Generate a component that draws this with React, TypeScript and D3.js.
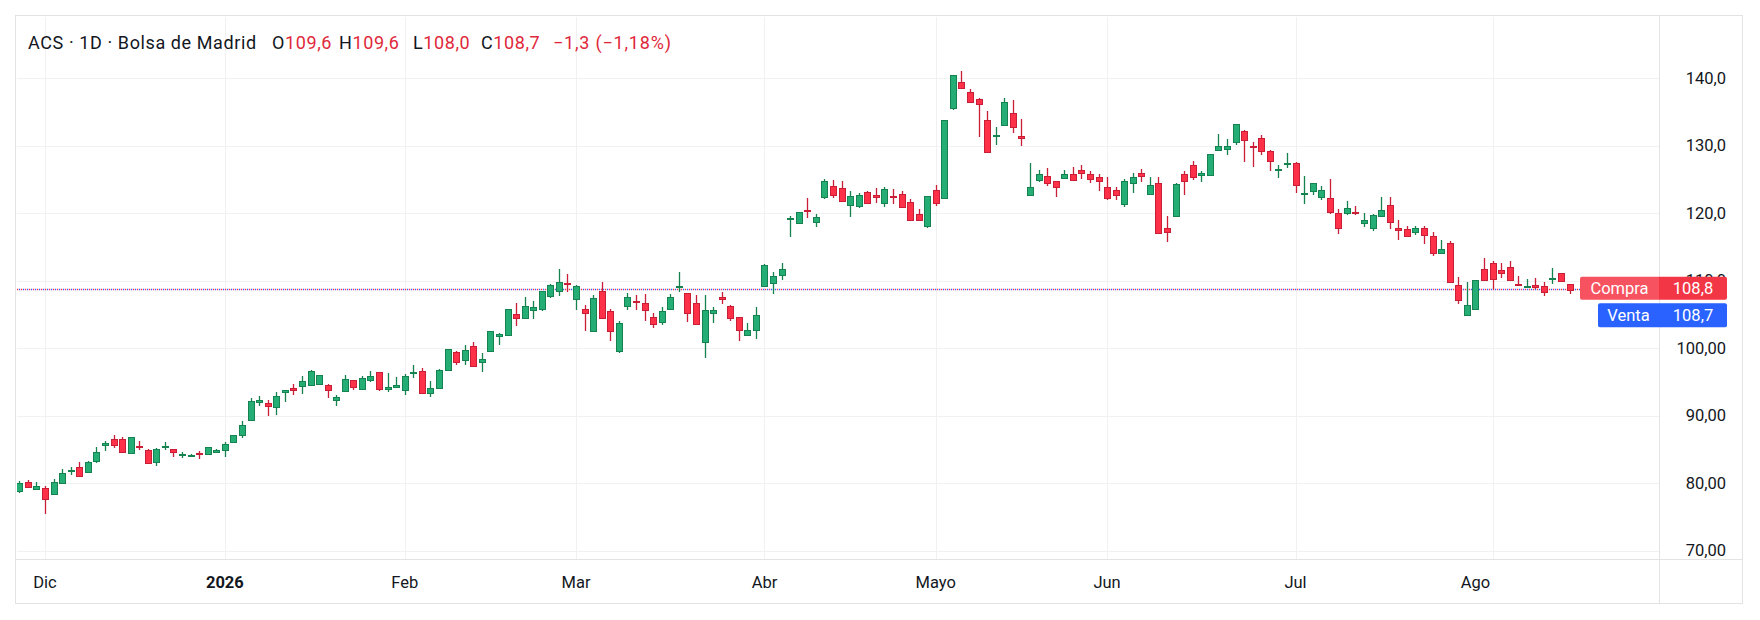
import React from "react";
import * as d3 from "d3";

const openV = [78.8,80.2,79.1,79.3,78.4,80.1,81.8,82.4,81.7,83.35,85.7,86.6,86.5,84.5,85.55,85.0,83.2,85.45,85.15,84.25,84.2,84.5,84.35,84.7,84.95,86.05,87.15,89.4,92.0,91.85,91.3,93.55,94.05,94.35,94.5,94.75,94.55,92.35,93.65,95.3,93.95,95.25,96.5,93.95,94.25,93.8,96.4,96.65,93.35,94.1,96.75,99.4,98.25,100.3,97.95,99.55,101.75,101.9,105.15,104.5,105.7,105.75,107.7,108.55,109.7,107.25,105.85,102.6,108.45,105.55,99.6,106.2,107.05,106.7,104.65,103.85,105.75,109.15,108.2,106.7,100.9,105.2,107.6,106.25,104.65,101.95,102.75,109.2,109.65,110.8,119.2,118.6,120.45,118.75,122.4,124.0,123.75,121.25,121.1,123.15,122.7,121.5,122.55,122.85,121.65,119.9,118.15,123.45,122.25,135.65,139.45,138.0,136.95,133.75,131.45,133.15,134.9,131.5,122.7,124.9,125.5,124.75,125.2,125.8,126.45,125.85,125.4,123.95,123.5,121.45,124.55,126.0,122.9,124.55,117.75,119.55,125.85,127.15,125.7,125.7,129.4,129.55,130.55,132.15,129.9,131.15,129.25,126.45,127.45,127.45,122.9,123.35,122.45,122.3,120.0,120.1,120.15,118.5,117.8,119.55,121.3,117.8,117.65,117.2,117.8,116.6,114.1,115.55,109.4,105.0,105.85,111.75,112.6,111.6,112.05,109.6,109.25,109.4,109.25,110.4,111.15,109.6];
const highV = [80.4,80.5,80.2,79.6,80.6,82.1,82.4,83.2,83.3,85.45,86.3,87.1,86.9,86.8,86.25,85.15,85.3,86.1,85.15,84.6,84.3,84.8,85.45,85.05,86.1,87.2,89.3,92.7,93.0,92.3,93.55,93.85,94.75,95.95,96.8,96.05,94.75,93.15,96.1,95.3,95.9,96.7,96.5,96.4,95.8,96.25,97.5,97.05,95.2,96.9,99.85,99.6,100.5,100.95,99.25,102.5,102.25,105.75,106.7,107.55,106.95,108.55,109.55,111.75,111.0,109.4,106.4,107.9,109.85,105.85,104.05,108.2,107.9,108.05,105.25,106.1,108.05,111.3,108.2,107.9,107.9,106.1,108.3,106.4,104.65,103.75,106.1,112.45,111.25,112.6,119.55,120.25,122.3,119.95,125.1,124.95,124.8,123.3,123.0,123.3,123.8,123.85,123.65,123.3,122.1,120.65,122.55,124.15,133.75,140.5,141.15,138.45,137.1,135.2,132.85,137.1,136.8,134.0,127.4,126.35,126.65,124.75,126.35,126.8,127.15,126.3,125.85,125.4,123.95,125.1,126.0,126.6,125.4,125.4,119.55,124.55,126.3,127.75,126.3,128.8,131.75,131.0,133.2,132.3,130.55,131.6,129.4,127.15,128.95,127.6,125.55,124.55,124.1,125.1,120.7,121.75,121.15,120.1,119.85,122.35,122.35,118.95,118.05,118.05,118.05,117.2,116.0,115.85,110.55,109.85,110.15,113.35,112.95,112.6,112.95,110.7,110.3,110.45,109.85,111.9,111.15,109.6];
const lowV = [78.6,79.5,79.1,75.4,78.3,80.1,81.3,81.1,81.7,83.05,84.8,85.25,84.65,84.5,84.9,82.9,82.55,84.9,83.9,83.8,84.0,83.6,84.35,84.5,83.9,85.95,86.7,89.4,91.4,89.9,90.05,92.0,93.05,93.2,94.5,94.65,92.6,91.45,93.5,93.8,93.8,94.95,93.65,93.5,94.25,93.15,95.55,93.4,92.75,94.1,96.75,97.6,97.6,97.45,96.55,99.55,100.55,101.9,103.35,104.35,104.35,105.5,107.4,107.7,108.4,105.65,102.55,102.6,104.45,101.05,99.3,105.65,105.65,104.0,103.0,103.4,105.75,108.4,103.85,103.4,98.55,103.7,106.55,104.0,101.05,101.8,101.35,109.2,108.0,110.15,116.5,118.4,119.3,117.95,122.05,122.25,121.8,119.4,120.8,121.35,121.5,120.9,121.35,120.95,118.85,119.0,117.85,121.1,122.25,135.35,138.6,136.5,131.35,129.15,130.15,133.15,131.95,130.0,122.55,124.6,124.0,122.35,125.05,124.75,125.1,124.55,123.35,121.9,121.9,120.95,123.05,124.65,122.9,117.15,115.7,119.55,122.75,124.95,124.65,125.7,129.25,128.65,130.1,127.6,126.9,128.65,126.3,125.25,126.75,123.05,121.45,122.75,121.9,119.95,116.9,119.7,119.7,117.95,117.35,119.55,117.65,116.0,116.6,116.75,115.45,113.65,113.95,109.85,106.6,104.85,105.85,110.15,108.8,110.45,110.0,109.25,109.1,108.8,107.8,109.55,109.9,108.0];
const closeV = [80.0,79.5,79.6,77.6,80.2,81.5,81.9,81.1,83.2,84.7,86.0,85.7,84.7,86.8,85.45,83.05,85.15,85.55,84.65,84.3,84.25,84.45,85.45,84.9,85.75,87.2,88.7,92.2,92.4,91.45,93.0,93.85,93.8,95.15,96.6,96.05,93.8,92.8,95.45,94.25,95.6,95.9,93.95,94.2,94.55,95.9,96.5,93.4,94.15,96.75,99.85,97.9,99.7,97.45,98.4,102.5,102.05,105.75,104.55,106.2,106.05,108.55,109.35,109.8,109.6,109.2,105.2,107.45,104.45,102.6,103.75,107.6,106.95,105.65,103.6,105.55,107.6,109.25,105.2,103.55,105.7,105.7,107.25,104.45,102.75,102.75,104.95,112.3,110.7,111.7,119.3,120.25,120.35,119.45,124.75,122.7,121.8,122.55,122.7,121.5,122.4,123.6,122.45,120.95,119.0,119.0,122.55,121.5,133.75,140.5,138.6,136.5,136.25,129.15,131.55,136.5,132.85,131.1,123.85,125.8,124.45,123.85,125.8,124.9,126.0,125.1,124.8,122.3,122.75,124.8,125.4,125.55,124.25,117.15,117.3,124.4,124.8,125.4,126.0,128.8,129.95,129.95,133.2,130.85,129.85,129.25,127.75,126.5,127.5,124.25,122.95,124.55,123.5,120.25,117.8,120.85,120.1,118.95,119.7,120.55,118.65,117.5,116.6,117.8,116.75,114.1,114.7,109.85,107.2,106.45,110.15,110.15,110.3,111.15,110.15,109.55,109.3,109.1,108.35,110.45,110.0,108.7];

const priceTicks = [140, 130, 120, 110, 100, 90, 80, 70];
const priceTickLabels = ["140,0", "130,0", "120,0", "110,0", "100,00", "90,00", "80,00", "70,00"];
const timeGridIndex = [3, 24, 45, 65, 87, 107, 127, 149, 172];
const timeTickIndex = [3, 24, 45, 65, 87, 107, 127, 149, 170];
const timeTickLabels = ["Dic", "2026", "Feb", "Mar", "Abr", "Mayo", "Jun", "Jul", "Ago"];
const boldTimeLabels = ["2026"];
const bidPrice = 108.8;
const askPrice = 108.7;
const bidLabel = "Compra";
const askLabel = "Venta";
const bidText = "108,8";
const askText = "108,7";

const UP_FILL = "#24ad74";
const UP_LINE = "#168250";
const DN_FILL = "#ff3148";
const DN_LINE = "#c91f36";
const TXT = "#131722";
const RED_TXT = "#e0283a";
const FONT = "Roboto, 'Noto Sans', sans-serif";

export default function App() {
  const W = 1760, H = 620;
  const plotL = 17, plotR = 1659, plotT = 17, plotB = 559;
  const x = d3.scaleLinear().domain([0, openV.length - 1]).range([19.3, 1569.6]);
  const y = d3.scaleLinear().domain([70, 140]).range([550.8, 78.3]);
  const lineY = y((bidPrice + askPrice) / 2);

  return (
    <svg width={W} height={H} style={{ position: "absolute", left: 0, top: 0, background: "#fff" }} fontFamily={FONT}>
      <defs>
        <clipPath id="plot">
          <rect x={plotL} y={plotT} width={plotR - plotL} height={plotB - plotT} />
        </clipPath>
      </defs>
      <rect x={0} y={0} width={W} height={H} fill="#fff" />
      {/* grid */}
      <g stroke="#f1f1f1" strokeWidth={1}>
        {priceTicks.map((p) => (
          <line key={"h" + p} x1={plotL} x2={plotR} y1={Math.round(y(p)) + 0.5} y2={Math.round(y(p)) + 0.5} />
        ))}
        {timeGridIndex.map((i) => (
          <line key={"v" + i} x1={Math.round(x(i)) + 0.5} x2={Math.round(x(i)) + 0.5} y1={plotT} y2={plotB} />
        ))}
      </g>
      {/* price line */}
      <g clipPath="url(#plot)">
        <line x1={plotL} x2={plotR} y1={Math.round(lineY) + 0.5} y2={Math.round(lineY) + 0.5} stroke={DN_FILL} strokeWidth={1.3} strokeDasharray="1.2 2.8" />
        <line x1={plotL} x2={plotR} y1={Math.round(lineY) + 0.5} y2={Math.round(lineY) + 0.5} stroke="#2962ff" strokeWidth={1.3} strokeDasharray="1.2 2.8" strokeDashoffset={-2} />
      </g>
      {/* candles */}
      <g clipPath="url(#plot)">
        {openV.map((o, i) => {
          const c = closeV[i];
          const up = c >= o;
          const cx = Math.round(x(i));
          const yo = y(o), yc = y(c), yh = y(highV[i]), yl = y(lowV[i]);
          const top = Math.round(Math.min(yo, yc));
          const bot = Math.max(Math.round(Math.max(yo, yc)), top + 1);
          const line = up ? UP_LINE : DN_LINE;
          const fill = up ? UP_FILL : DN_FILL;
          return (
            <g key={i}>
              <line x1={cx + 0.5} x2={cx + 0.5} y1={Math.round(yh)} y2={Math.round(yl)} stroke={line} strokeWidth={1.3} />
              <rect x={cx - 2.5} y={top + 0.5} width={6} height={bot - top} fill={fill} stroke={line} strokeWidth={1} />
            </g>
          );
        })}
      </g>
      {/* frame & separators */}
      <rect x={15.5} y={15.5} width={1727} height={588} fill="none" stroke="#e3e3e3" strokeWidth={1} />
      <line x1={plotR + 0.5} x2={plotR + 0.5} y1={16} y2={603} stroke="#e3e3e3" />
      <line x1={16} x2={1742} y1={plotB + 0.5} y2={plotB + 0.5} stroke="#e3e3e3" />
      {/* price axis labels */}
      <g fontSize={16.5} fill={TXT} textAnchor="end">
        {priceTicks.map((p, k) => (
          <text key={p} x={1726} y={y(p)} dominantBaseline="central">{priceTickLabels[k]}</text>
        ))}
      </g>
      {/* time axis labels */}
      <g fontSize={16.5} fill={TXT} textAnchor="middle">
        {timeTickIndex.map((i, k) => (
          <text key={i} x={x(i)} y={582.5} dominantBaseline="central" fontWeight={boldTimeLabels.includes(timeTickLabels[k]) ? 700 : 400}>
            {timeTickLabels[k]}
          </text>
        ))}
      </g>
      {/* bid / ask labels */}
      <g fontSize={16.5} fill="#fff">
        <path d={`M1582,${lineY - 12.5} h77 v23 h-77 a2,2 0 0 1 -2,-2 v-19 a2,2 0 0 1 2,-2 z`} fill="#f7525f" />
        <text x={1619.5} y={lineY - 1} textAnchor="middle" dominantBaseline="central">{bidLabel}</text>
        <path d={`M1659,${lineY - 12.5} h66 a2,2 0 0 1 2,2 v19 a2,2 0 0 1 -2,2 h-66 z`} fill="#f23645" />
        <text x={1693} y={lineY - 1} textAnchor="middle" dominantBaseline="central">{bidText}</text>
        <path d={`M1600,${lineY + 14} h59 v24 h-59 a2,2 0 0 1 -2,-2 v-20 a2,2 0 0 1 2,-2 z`} fill="#2962ff" />
        <text x={1628.5} y={lineY + 26} textAnchor="middle" dominantBaseline="central">{askLabel}</text>
        <path d={`M1659,${lineY + 14} h66 a2,2 0 0 1 2,2 v20 a2,2 0 0 1 -2,2 h-66 z`} fill="#2962ff" />
        <text x={1693} y={lineY + 26} textAnchor="middle" dominantBaseline="central">{askText}</text>
      </g>
      {/* header */}
      <g fontSize={18} letterSpacing={0.6} dominantBaseline="central">
        <text x={28} y={42} fill={TXT}>ACS · 1D · Bolsa de Madrid</text>
        <text x={272} y={42} fill={TXT}>O<tspan fill={RED_TXT}>109,6</tspan></text>
        <text x={339} y={42} fill={TXT}>H<tspan fill={RED_TXT}>109,6</tspan></text>
        <text x={413} y={42} fill={TXT}>L<tspan fill={RED_TXT}>108,0</tspan></text>
        <text x={481} y={42} fill={TXT}>C<tspan fill={RED_TXT}>108,7</tspan></text>
        <text x={553} y={42} fill={RED_TXT} letterSpacing={0.8}>−1,3 (−1,18%)</text>
      </g>
    </svg>
  );
}
